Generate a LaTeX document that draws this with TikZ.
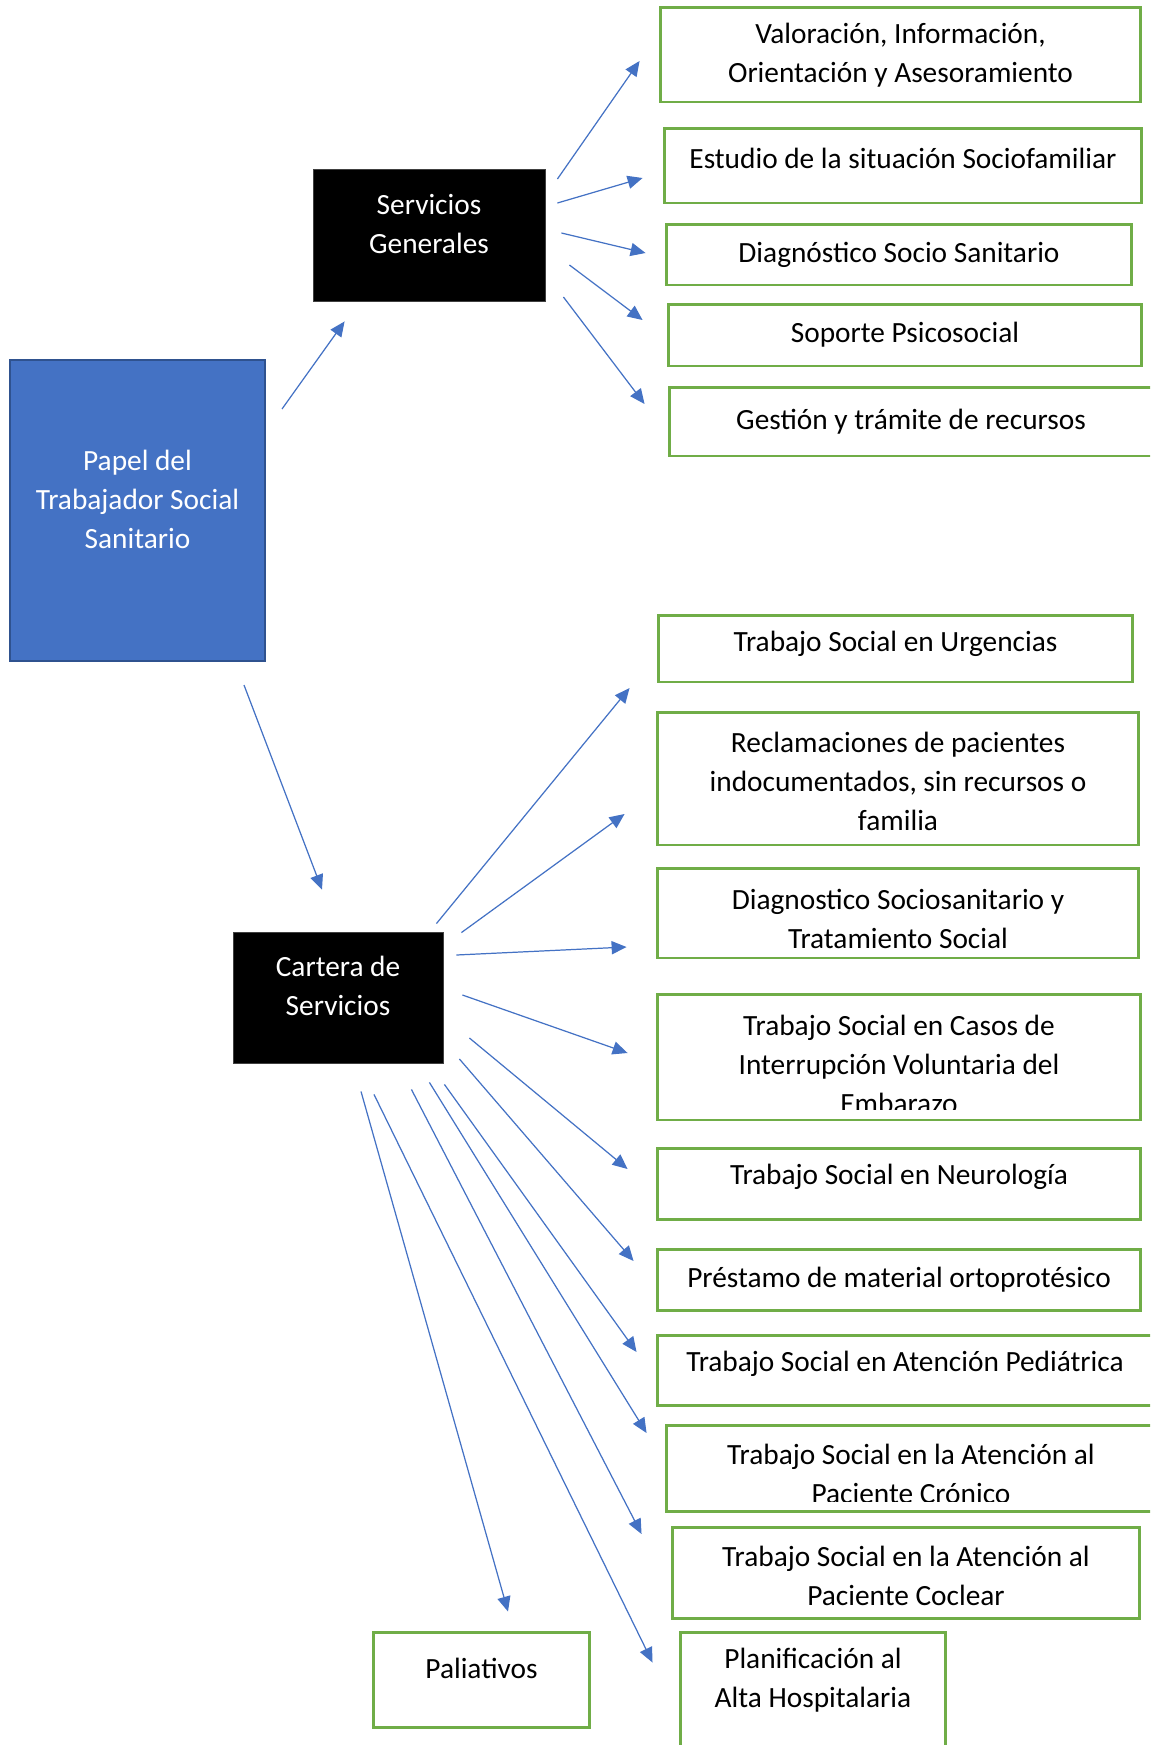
\documentclass[tikz,border=0pt]{standalone}
\usepackage{fontspec}
\setmainfont{Carlito}
\usepackage{tikz}
\usepackage{xcolor}
\usetikzlibrary{positioning,calc,arrows.meta}
\definecolor{boxgreen}{HTML}{70AD47}
\definecolor{arrowblue}{HTML}{4472C4}
\definecolor{papelfill}{HTML}{4472C4}
\definecolor{papelline}{HTML}{2F528F}
\newcommand{\boxfont}{\fontsize{16.7pt}{22.2pt}\selectfont}
\tikzstyle{greenBox} = [rectangle, draw=boxgreen, line width=1.7pt, text centered, align=center, font=\boxfont, inner sep=0pt]
\tikzstyle{blackBox} = [rectangle, fill=black, draw=black!75, line width=0.5pt]
\tikzstyle{blueBox} = [rectangle, fill=papelfill, draw=papelline, line width=1.2pt]
\tikzstyle{boxText} = [text centered, align=center, font=\boxfont]
\tikzstyle{whiteText} = [boxText, text=white]
\tikzstyle{arrow} = [draw=arrowblue, line width=0.7pt, -{Triangle[length=8.5pt,width=7.5pt]}]

\begin{document}
\begin{tikzpicture}[x=0.02cm, y=-0.02cm]
            \useasboundingbox (0,0) rectangle (1150,1745);
            \clip (0,0) rectangle (1150,1745);
            \node (papel) at (137.5,510.5) [blueBox, minimum width=5.10cm, minimum height=6.02cm] {};
            \node (papelt) at (137.5,499.5) [whiteText] {Papel del\\Trabajador Social\\Sanitario};
            \node (sg) at (429,235) [blackBox, minimum width=4.64cm, minimum height=2.64cm] {};
            \node (sgt) at (429,224.5) [whiteText] {Servicios\\Generales};
            \node (cartera) at (338,997.5) [blackBox, minimum width=4.20cm, minimum height=2.62cm] {};
            \node (carterat) at (338,985.5) [whiteText] {Cartera de\\Servicios};

            \node (valor) at (900.5,54.5) [greenBox, minimum width=9.62cm, minimum height=1.90cm] {};
            \node (valort) at (900.5,55.5) [boxText] {Valoración, Información,\\Orientación y Asesoramiento};
            \node (estudio) at (903,165.5) [greenBox, minimum width=9.56cm, minimum height=1.50cm] {};
            \node (estudiot) at (903,158) [boxText] {Estudio de la situación Sociofamiliar};
            \node (diag) at (899,254.5) [greenBox, minimum width=9.32cm, minimum height=1.22cm] {Diagnóstico Socio Sanitario};
            \node (soporte) at (905,335) [greenBox, minimum width=9.48cm, minimum height=1.24cm] {Soporte Psicosocial};
            \node (gestion) at (911,421.5) [greenBox, minimum width=9.68cm, minimum height=1.38cm] {Gestión y trámite de recursos};

            \node (urg) at (895.5,648.5) [greenBox, minimum width=9.50cm, minimum height=1.34cm] {};
            \node (urgt) at (895.5,644) [boxText] {Trabajo Social en Urgencias};
            \node (recl) at (898,778.5) [greenBox, minimum width=9.64cm, minimum height=2.66cm] {};
            \node (reclt) at (898,781) [boxText] {Reclamaciones de pacientes\\indocumentados, sin recursos o\\familia};
            \node (diagtrat) at (898,913) [greenBox, minimum width=9.64cm, minimum height=1.80cm] {};
            \node (diagtratt) at (898,918.5) [boxText] {Diagnostico Sociosanitario y\\Tratamiento Social};
            \node (ive) at (899,1057) [greenBox, minimum width=9.68cm, minimum height=2.52cm] {};
            \begin{scope}
                \clip (ive.north west) rectangle ($(ive.south east)+(0,-12)$);
                \node (ivet) at (899,1064) [boxText] {Trabajo Social en Casos de\\Interrupción Voluntaria del\\Embarazo};
            \end{scope}
            \node (neuro) at (899,1183.5) [greenBox, minimum width=9.68cm, minimum height=1.42cm] {};
            \node (neurot) at (899,1177) [boxText] {Trabajo Social en Neurología};
            \node (prest) at (899,1279.5) [greenBox, minimum width=9.68cm, minimum height=1.22cm] {Préstamo de material ortoprotésico};
            \node (pedia) at (905,1370) [greenBox, minimum width=9.92cm, minimum height=1.40cm] {};
            \node (pediat) at (905,1364) [boxText] {Trabajo Social en Atención Pediátrica};
            \node (cronico) at (911,1468) [greenBox, minimum width=9.80cm, minimum height=1.72cm] {};
            \begin{scope}
                \clip (cronico.north west) rectangle ($(cronico.south east)+(0,-11)$);
                \node (cronicot) at (911,1473.5) [boxText] {Trabajo Social en la Atención al\\Paciente Crónico};
            \end{scope}
            \node (coclear) at (906,1572.5) [greenBox, minimum width=9.36cm, minimum height=1.82cm] {};
            \node (coclreat) at (906,1576) [boxText] {Trabajo Social en la Atención al\\Paciente Coclear};
            \node (plan) at (813,1701) [greenBox, minimum width=5.32cm, minimum height=2.76cm] {};
            \node (plant) at (813,1680) [boxText] {Planificación al\\Alta Hospitalaria};
            \node (pal) at (481.5,1679.5) [greenBox, minimum width=4.34cm, minimum height=1.90cm] {};
            \node (palt) at (481.5,1668) [boxText] {Paliativos};

            \draw[arrow] ($(papel.north east)+(16,50)$) -- ($(sg.south west)+(32,20)$);
            \draw[arrow] ($(papel.south)+(106.5,23)$) -- ($(cartera.north)+(-16,-42)$);

            \draw[arrow] ($(sg.east)+(12,-56)$) -- ($(valor.west)+(-19,6.5)$);
            \draw[arrow] ($(sg.east)+(12,-32)$) -- ($(estudio.west)+(-20,12.5)$);
            \draw[arrow] ($(sg.east)+(16,-2)$) -- ($(diag.west)+(-19,-1.5)$);
            \draw[arrow] ($(sg.east)+(24,30)$) -- ($(soporte.west)+(-24,-15)$);
            \draw[arrow] ($(sg.east)+(18,62)$) -- ($(gestion.west)+(-23,-17.5)$);

            \draw[arrow] ($(cartera.north east)+(-7,-8)$) -- ($(urg.west)+(-27,39.5)$);
            \draw[arrow] ($(cartera.north east)+(18,1)$) -- ($(recl.west)+(-31,35.5)$);
            \draw[arrow] ($(cartera.east)+(13,-42.5)$) -- ($(diagtrat.west)+(-29,34)$);
            \draw[arrow] ($(cartera.east)+(19,-2.5)$) -- ($(ive.west)+(-28,-4)$);
            \draw[arrow] ($(cartera.east)+(26,40.5)$) -- ($(neuro.west)+(-28,-14.5)$);
            \draw[arrow] ($(cartera.east)+(16,61.5)$) -- ($(prest.west)+(-22,-18.5)$);
            \draw[arrow] ($(cartera.south east)+(1,21)$) -- ($(pedia.west)+(-19,-18)$);
            \draw[arrow] ($(cartera.south east)+(-14,19)$) -- ($(cronico.west)+(-18,-35)$);
            \draw[arrow] ($(cartera.south east)+(-32,26)$) -- ($(coclear.west)+(-29,-38.5)$);
            \draw[arrow] ($(cartera.south)+(36,31)$) -- ($(plan.north west)+(-26,32)$);
            \draw[arrow] ($(cartera.south)+(23,28)$) -- ($(pal.north)+(26.5,-19)$);
        \end{tikzpicture}
\end{document}
